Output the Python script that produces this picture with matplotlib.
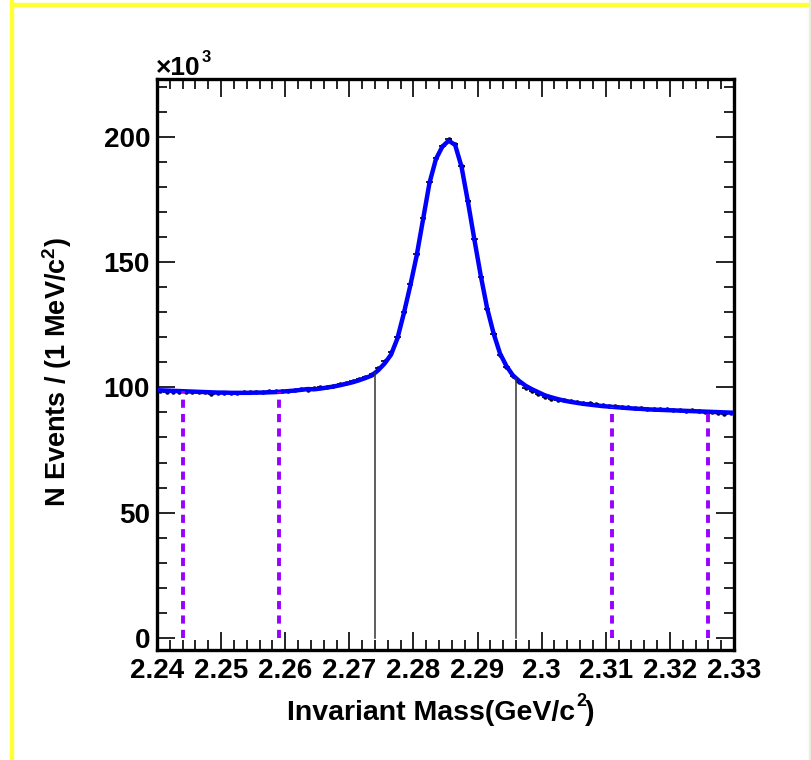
import numpy as np
import matplotlib
matplotlib.use("Agg")
import matplotlib.pyplot as plt
from matplotlib.ticker import MultipleLocator, FuncFormatter
from matplotlib.patches import Rectangle
from matplotlib import font_manager

# 1 MeV bins from 2.240 to 2.330 GeV, counts in units of 10^3
bin_lo = 2.240
bin_w = 0.001
n_bins = 90

fit_k = [
    98.8, 98.7, 98.6, 98.5, 98.4, 98.3, 98.2, 98.1, 98.0, 97.9,
    97.9, 97.8, 97.8, 97.8, 97.8, 97.9, 97.9, 98.0, 98.1, 98.3,
    98.5, 98.7, 99.0, 99.3, 99.2, 99.5, 99.9, 100.3, 100.8, 101.4,
    102.0, 102.8, 103.7, 104.7, 106.8, 109.5, 113.0, 119.5, 129.5, 140.5,
    152.5, 167.0, 181.5, 191.0, 196.0, 198.4, 196.7, 188.0, 174.0, 159.0,
    144.5, 131.5, 121.5, 113.5, 108.5, 104.8, 102.5, 100.6, 99.2, 98.0,
    96.8, 96.0, 95.3, 94.7, 94.2, 93.8, 93.4, 93.1, 92.8, 92.5,
    92.3, 92.1, 91.9, 91.7, 91.5, 91.4, 91.2, 91.1, 91.0, 90.9,
    90.8, 90.7, 90.6, 90.5, 90.4, 90.3, 90.2, 90.1, 90.0, 89.9,
]

data_k = [
    98.4, 98.3, 98.1, 98.0, 98.2, 98.0, 98.1, 98.2, 97.3, 97.9,
    97.8, 97.9, 97.7, 98.2, 98.0, 98.3, 98.1, 98.4, 98.5, 98.6,
    98.4, 99.0, 99.2, 99.1, 99.6, 100.0, 100.3, 100.6, 101.3, 101.9,
    102.6, 103.5, 104.3, 105.4, 107.6, 110.3, 114.0, 120.2, 130.0, 141.2,
    153.0, 167.4, 182.0, 191.4, 196.2, 199.2, 196.9, 188.3, 174.4, 159.3,
    144.2, 131.2, 121.2, 113.0, 108.0, 104.6, 102.0, 99.9, 98.5, 97.3,
    96.2, 95.5, 95.0, 94.9, 94.5, 94.0, 93.9, 93.7, 93.3, 92.9,
    92.6, 92.5, 92.0, 92.2, 91.9, 91.6, 91.5, 91.2, 91.4, 91.2,
    90.9, 91.0, 90.7, 90.8, 90.6, 90.2, 90.1, 89.6, 89.5, 89.9,
]

# signal window and sidebands (GeV)
signal_edges = [2.274, 2.296]
sideband_edges = [2.244, 2.259, 2.311, 2.326]

mass = bin_lo + bin_w * (np.arange(n_bins) + 0.5)
fit = np.array(fit_k)
data = np.array(data_k)
err = np.sqrt(data * 1000.0) / 1000.0

installed = {f.name for f in font_manager.fontManager.ttflist}
narrow = 'Liberation Sans Narrow' if 'Liberation Sans Narrow' in installed else 'Liberation Sans'

W, H = 812, 760
plt.rcParams['font.family'] = ['Liberation Sans', 'DejaVu Sans']
plt.rcParams['mathtext.fontset'] = 'custom'
plt.rcParams['mathtext.bf'] = 'Liberation Sans:bold'
fig = plt.figure(figsize=(W / 100, H / 100), dpi=100)

# canvas frame
fig.patches.append(Rectangle((10 / W, 0), 3 / W, 1, transform=fig.transFigure,
                             color='#ffff33', zorder=0))
fig.patches.append(Rectangle((10 / W, 1 - 6 / H), 1, 3 / H, transform=fig.transFigure,
                             color='#ffff33', zorder=0))
fig.patches.append(Rectangle((809 / W, 0), 2 / W, 1, transform=fig.transFigure,
                             color='#ececdc', zorder=0))

ax = fig.add_axes([157 / W, 1 - 650 / H, (734 - 157) / W, (650 - 79) / H])

ax.errorbar(mass, data, xerr=bin_w / 2, yerr=err, fmt='o', ms=2.2,
            color='black', elinewidth=1.2, capsize=0, zorder=2)
ax.plot(mass, fit, color='#0000ff', lw=3.2, zorder=3, solid_joinstyle='round')

for x in signal_edges:
    ax.plot([x, x], [0, np.interp(x, mass, fit)], color='#333333', lw=1.1, zorder=4)
for x in sideband_edges:
    ax.plot([x, x], [0, np.interp(x, mass, fit)], color='#9a00ff', lw=2.8,
            dashes=(2.1, 1.6), zorder=4)

ax.set_xlim(2.24, 2.33)
ax.set_ylim(-4.8, 223)

ax.xaxis.set_major_locator(MultipleLocator(0.01))
ax.xaxis.set_minor_locator(MultipleLocator(0.002))
ax.yaxis.set_major_locator(MultipleLocator(50))
ax.yaxis.set_minor_locator(MultipleLocator(10))
ax.xaxis.set_major_formatter(FuncFormatter(lambda v, p: '%g' % round(v, 3)))
ax.yaxis.set_major_formatter(FuncFormatter(lambda v, p: '%d' % round(v)))

ax.tick_params(which='both', direction='in', top=True, right=True, width=1.2,
               labelsize=20, color='black')
ax.tick_params(which='major', length=13)
ax.tick_params(which='minor', length=7)
ax.tick_params(axis='x', pad=6)
ax.tick_params(axis='y', pad=5)
for lab in ax.get_xticklabels() + ax.get_yticklabels():
    lab.set_fontweight('bold')
for sp in ax.spines.values():
    sp.set_linewidth(2.4)

fig.text(156 / W, 1 - 75 / H, '×10', fontsize=19, fontweight='bold',
         family=narrow, ha='left', va='baseline')
fig.text(202 / W, 1 - 62 / H, '3', fontsize=12, fontweight='bold',
         family=narrow, ha='left', va='baseline')
fig.text(287 / W, 1 - 720 / H, 'Invariant Mass(GeV/c', fontsize=20.5,
         fontweight='bold', family=narrow, ha='left', va='baseline')
fig.text(57 / W, 1 - 372 / H, r'N Events / (1 MeV/c$^{\mathbf{2}}$)', fontsize=19.5,
         fontweight='bold', ha='center', va='center', rotation=90)

# superscript and closing bracket of the x title follow the main text
fig.canvas.draw()
t = fig.texts[-2]
bb = t.get_window_extent()
x_end = bb.x1 / W
fig.text(x_end + 1 / W, 1 - 706 / H, '2', fontsize=13, fontweight='bold',
         family=narrow, ha='left', va='baseline')
fig.text(x_end + 10 / W, 1 - 720 / H, ')', fontsize=20.5, fontweight='bold',
         family=narrow, ha='left', va='baseline')

fig.savefig('out.png', dpi=100)
